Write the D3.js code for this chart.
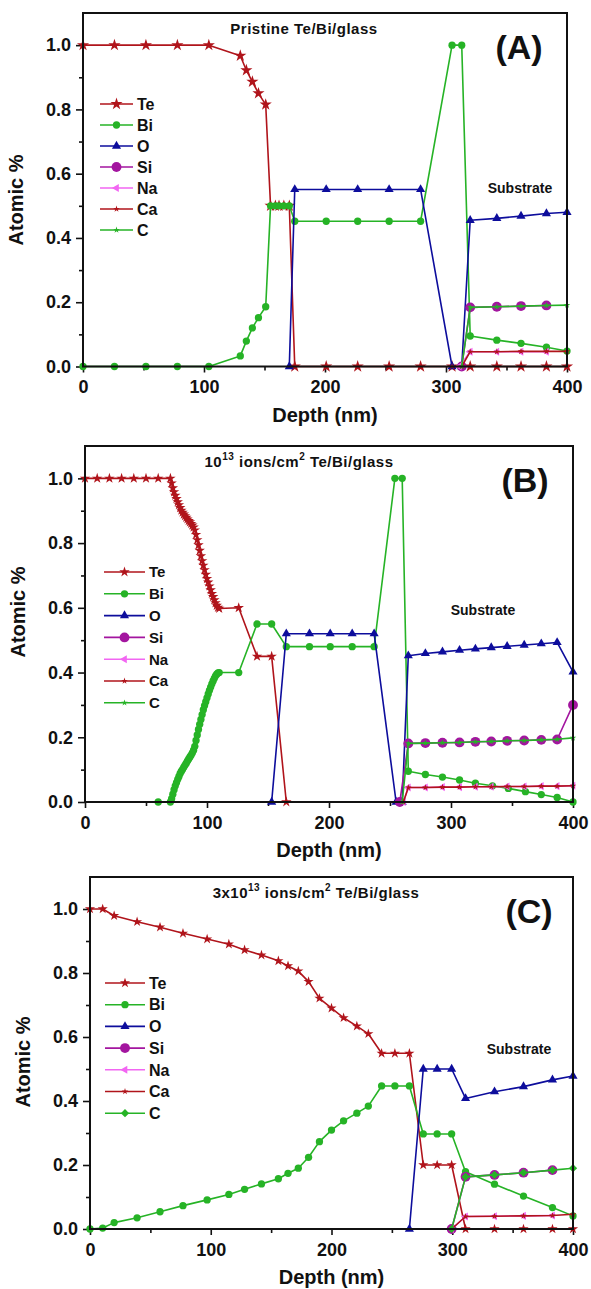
<!DOCTYPE html>
<html lang="en">
<head>
<meta charset="UTF-8">
<title>Depth profiles Te/Bi/glass</title>
<script src="https://cdn.jsdelivr.net/npm/d3@7"></script>
<style>
  body { margin: 0; background: #fff; }
  svg { display: block; font-family: "Liberation Sans", Arial, sans-serif; }
  .tick text { font-size: 18px; font-weight: bold; fill: #111; }
  .tick line { stroke: #111; stroke-width: 1.6; }
  .lbl { font-weight: bold; fill: #111; }
</style>
</head>
<body>
<svg id="chart" width="591" height="1289"></svg>
<script>
// ticks
const xTicks = [0, 100, 200, 300, 400];
const xMinor = [50, 150, 250, 350];
const yTicks = [0, 0.2, 0.4, 0.6, 0.8, 1.0];
const yMinor = [0.1, 0.3, 0.5, 0.7, 0.9];
const elements = ['Te', 'Bi', 'O', 'Si', 'Na', 'Ca', 'C'];

// (A) pristine — [depth nm, atomic fraction]
const aTe = [[0,1],[26,1],[52,1],[78,1],[104,1],[130,0.967],[135,0.922],[140,0.886],[145,0.85],[151,0.815],
  [155,0.5],[159,0.5],[162,0.5],[166,0.5],[170.5,0.5],[175,0],[201,0],[227,0],[253,0],[279,0],[305,0],
  [320,0],[342,0],[362,0],[383,0],[400,0]];
const aBi = [[0,0],[26,0],[52,0],[78,0],[104,0],[130,0.033],[135,0.079],[140,0.12],[145,0.152],[151,0.186],
  [155,0.5],[159,0.5],[162,0.5],[166,0.5],[170.5,0.5],[175,0.452],[201,0.452],[227,0.452],[253,0.452],[279,0.452],
  [305,1],[313,1],[320,0.095],[342,0.082],[362,0.072],[383,0.06],[400,0.048]];
const aO = [[170.5,0],[175,0.551],[201,0.551],[227,0.551],[253,0.551],[279,0.551],[305,0],[313,0],
  [320,0.455],[342,0.461],[362,0.468],[383,0.476],[400,0.48]];
const aSi = [[313,0],[320,0.184],[342,0.186],[362,0.188],[383,0.19]];
const aNa = [[311,0],[320,0.046],[342,0.046],[362,0.046],[383,0.046]];
const aCa = [[305,0],[313,0],[320,0.046],[342,0.046],[362,0.047],[383,0.047],[400,0.047]];
const aC = [[313,0],[320,0.184],[342,0.186],[362,0.188],[383,0.19],[400,0.191]];

// (B) 1e13 ions/cm2
const bTe = [[0,1],[10,1],[20,1],[30,1],[40,1],[50,1],[60,1],[70,1],[71,0.985],[72,0.97],[73,0.958],[74,0.947],
  [75,0.937],[76,0.927],[77,0.918],[78,0.909],[79,0.901],[80,0.895],[81,0.889],[82,0.884],[83,0.879],[84,0.874],
  [85,0.869],[86,0.865],[87,0.86],[88,0.855],[89,0.849],[90,0.84],[91,0.826],[92,0.81],[93,0.794],[94,0.777],
  [95,0.76],[96,0.745],[97,0.731],[98,0.717],[99,0.703],[100,0.69],[101,0.679],[102,0.667],[103,0.655],[104,0.644],
  [105,0.634],[106,0.624],[107,0.615],[108,0.607],[109,0.601],[110,0.598],[126,0.6],[141,0.45],[153,0.45],[165,0]];
const bBi = [[60,0],[70,0],[71,0.01],[72,0.024],[73,0.038],[74,0.05],[75,0.06],[76,0.07],[77,0.079],[78,0.088],
  [79,0.095],[80,0.101],[81,0.108],[82,0.114],[83,0.12],[84,0.127],[85,0.133],[86,0.139],[87,0.145],[88,0.152],
  [89,0.16],[90,0.172],[91,0.19],[92,0.207],[93,0.224],[94,0.24],[95,0.255],[96,0.27],[97,0.285],[98,0.298],
  [99,0.31],[100,0.322],[101,0.334],[102,0.345],[103,0.355],[104,0.365],[105,0.374],[106,0.382],[107,0.39],
  [108,0.395],[109,0.399],[110,0.4],[126,0.4],[141,0.55],[153,0.55],[165,0.48],[184,0.48],[201,0.48],[219,0.48],
  [237,0.48],[254,1],[260,1],[265,0.095],[279,0.085],[293,0.077],[307,0.068],[320,0.058],[334,0.05],[347,0.042],
  [361,0.032],[374,0.023],[387,0.014],[400,0]];
const bO = [[153,0],[165,0.52],[184,0.52],[201,0.52],[219,0.52],[237,0.52],[255,0],[260,0],[265,0.452],[279,0.459],
  [293,0.464],[307,0.469],[320,0.473],[333,0.477],[346,0.481],[360,0.485],[374,0.489],[387,0.493],[400,0.402]];
const bSi = [[258,0],[265,0.181],[279,0.182],[293,0.183],[307,0.184],[320,0.186],[333,0.187],[346,0.189],
  [360,0.19],[374,0.192],[387,0.193],[400,0.3]];
const bNa = [[261,0],[265,0.045],[279,0.045],[293,0.046],[307,0.046],[320,0.047],[333,0.047],[346,0.048],
  [360,0.048],[374,0.049],[387,0.049],[400,0.05]];
const bCa = [[261,0],[265,0.045],[279,0.045],[293,0.046],[307,0.046],[320,0.047],[333,0.047],[346,0.048],
  [360,0.048],[374,0.049],[387,0.049],[400,0.05]];
const bC = [[260,0],[265,0.181],[279,0.182],[293,0.183],[307,0.184],[320,0.186],[333,0.187],[346,0.189],
  [360,0.19],[374,0.192],[387,0.194],[400,0.198]];

// (C) 3e13 ions/cm2
const cTe = [[0,1],[10.5,1],[20,0.979],[39,0.96],[58,0.943],[77,0.924],[97,0.906],[115,0.89],[128,0.872],
  [142,0.856],[156,0.838],[164,0.822],[172.5,0.806],[181,0.773],[190,0.721],[200,0.69],[210,0.66],[221,0.634],
  [230.5,0.61],[241.5,0.549],[252.5,0.549],[264.5,0.549],[276,0.2],[287.5,0.2],[299.5,0.2],[311,0],[335,0],
  [359,0],[383,0],[400,0]];
const cBi = [[0,0],[10.5,0.003],[20,0.02],[39,0.035],[58,0.054],[77,0.073],[97,0.091],[115,0.108],[128,0.124],
  [142,0.141],[156,0.157],[164,0.174],[172.5,0.19],[181,0.224],[190,0.273],[200,0.309],[210,0.338],[221,0.362],
  [230.5,0.384],[241.5,0.447],[252.5,0.447],[264.5,0.447],[276,0.297],[287.5,0.297],[299.5,0.297],[311,0.179],
  [335,0.14],[359,0.103],[383,0.067],[400,0.041]];
const cO = [[264.5,0],[276,0.5],[287.5,0.5],[299.5,0.5],[311,0.408],[335,0.429],[359,0.445],[383,0.466],[400,0.478]];
const cSi = [[299.5,0],[311,0.163],[335,0.169],[359,0.176],[383,0.184]];
const cNa = [[299.5,0],[311,0.039],[335,0.04],[359,0.041],[383,0.042]];
const cCa = [[299.5,0],[311,0.039],[335,0.04],[359,0.041],[383,0.042],[400,0.046]];
const cC = [[299.5,0],[311,0.163],[335,0.169],[359,0.176],[383,0.184],[400,0.19]];

const colors = {Te:'#b0141b', Bi:'#26b326', O:'#0d0d9c', Si:'#a3159f', Na:'#f266f2', Ca:'#b0141b', C:'#26b326'};

const svg = d3.select('#chart');

const panels = [
  {tag:'(A)', box:[83,567,13,366.5], series:{Te:aTe,Bi:aBi,O:aO,Si:aSi,Na:aNa,Ca:aCa,C:aC},
   title:[['Pristine Te/Bi/glass',0]], titleX:304, teSize:46, cShape:'smallstar',
   legend:{x0:100,x1:133,y:104,dy:21,fs:16}, sub:[520,193], tagX:519, ylabY:200},
  {tag:'(B)', box:[85,573,446,802], series:{Te:bTe,Bi:bBi,O:bO,Si:bSi,Na:bNa,Ca:bCa,C:bC},
   title:[['10',0],['13',1],[' ions/cm',0],['2',1],[' Te/Bi/glass',0]], titleX:299, teSize:34, cShape:'smallstar',
   legend:{x0:104,x1:145,y:572,dy:21.8,fs:15}, sub:[483,615], tagX:525, ylabY:612},
  {tag:'(C)', box:[90,573,877,1229], series:{Te:cTe,Bi:cBi,O:cO,Si:cSi,Na:cNa,Ca:cCa,C:cC},
   title:[['3x10',0],['13',1],[' ions/cm',0],['2',1],[' Te/Bi/glass',0]], titleX:316, teSize:32, cShape:'diamond',
   legend:{x0:105,x1:145,y:983,dy:21.7,fs:16}, sub:[519,1054], tagX:529, ylabY:1062}
];

function symbolPath(name, p) {
  if (name === 'Te') return {d:d3.symbol(d3.symbolStar, p.teSize)(), rot:0};
  if (name === 'Bi') return {d:d3.symbol(d3.symbolCircle, 42)(), rot:0};
  if (name === 'O') return {d:d3.symbol(d3.symbolTriangle, 36)(), rot:0};
  if (name === 'Si') return {d:d3.symbol(d3.symbolCircle, 76)(), rot:0};
  if (name === 'Na') return {d:d3.symbol(d3.symbolTriangle, 28)(), rot:-90};
  if (name === 'Ca') return {d:d3.symbol(d3.symbolStar, 13)(), rot:0};
  if (p.cShape === 'diamond') return {d:d3.symbol(d3.symbolSquare, 34)(), rot:45};
  return {d:d3.symbol(d3.symbolStar, 13)(), rot:0};
}

panels.forEach(p => {
  const [left, right, top, bottom] = p.box;
  const x = d3.scaleLinear().domain([0, 400]).range([left, right]);
  const y = d3.scaleLinear().domain([0, 1.1]).range([bottom, top]);
  const g = svg.append('g');

  // minor ticks
  g.append('g').attr('transform', `translate(0,${bottom})`)
    .call(d3.axisBottom(x).tickValues(xMinor).tickSize(4).tickSizeOuter(0).tickFormat(''))
    .call(a => a.select('.domain').remove());
  g.append('g').attr('transform', `translate(${left},0)`)
    .call(d3.axisLeft(y).tickValues(yMinor).tickSize(4).tickSizeOuter(0).tickFormat(''))
    .call(a => a.select('.domain').remove());
  // major ticks
  g.append('g').attr('transform', `translate(0,${bottom})`)
    .call(d3.axisBottom(x).tickValues(xTicks).tickSize(6).tickPadding(8).tickSizeOuter(0).tickFormat(d3.format('d')))
    .call(a => a.select('.domain').remove());
  g.append('g').attr('transform', `translate(${left},0)`)
    .call(d3.axisLeft(y).tickValues(yTicks).tickSize(7).tickPadding(5).tickSizeOuter(0).tickFormat(d3.format('.1f')))
    .call(a => a.select('.domain').remove());

  // series
  const line = d3.line().x(d => x(d[0])).y(d => y(d[1]));
  elements.forEach(name => {
    const data = p.series[name];
    const s = symbolPath(name, p);
    g.append('path').attr('d', line(data)).attr('fill', 'none')
      .attr('stroke', colors[name]).attr('stroke-width', 1.6).attr('stroke-linejoin', 'round');
    g.selectAll(null).data(data).join('path')
      .attr('d', s.d)
      .attr('transform', d => `translate(${x(d[0])},${y(d[1])}) rotate(${s.rot})`)
      .attr('fill', colors[name]);
  });

  // frame
  g.append('rect').attr('x', left).attr('y', top).attr('width', right - left).attr('height', bottom - top)
    .attr('fill', 'none').attr('stroke', '#111').attr('stroke-width', 2);

  // legend
  const L = p.legend;
  elements.forEach((name, i) => {
    const ly = L.y + i * L.dy;
    const s = symbolPath(name, p);
    g.append('line').attr('x1', L.x0).attr('x2', L.x1).attr('y1', ly).attr('y2', ly)
      .attr('stroke', colors[name]).attr('stroke-width', 1.6);
    g.append('path').attr('d', s.d)
      .attr('transform', `translate(${(L.x0 + L.x1) / 2},${ly}) rotate(${s.rot})`)
      .attr('fill', colors[name]);
    g.append('text').attr('class', 'lbl').attr('x', L.x1 + 4).attr('y', ly).attr('dy', '0.36em')
      .attr('font-size', L.fs).text(name);
  });

  // title
  const t = g.append('text').attr('class', 'lbl').attr('x', p.titleX).attr('y', top + 21)
    .attr('text-anchor', 'middle').attr('font-size', 15).attr('letter-spacing', 0.5);
  let up = false;
  p.title.forEach(([str, sup]) => {
    const ts = t.append('tspan').text(str);
    if (sup && !up) { ts.attr('font-size', 10).attr('dy', -7); up = true; }
    else if (!sup && up) { ts.attr('dy', 7); up = false; }
  });

  g.append('text').attr('class', 'lbl').attr('x', p.tagX).attr('y', top + 46)
    .attr('text-anchor', 'middle').attr('font-size', 34).text(p.tag);
  g.append('text').attr('class', 'lbl').attr('x', p.sub[0]).attr('y', p.sub[1])
    .attr('text-anchor', 'middle').attr('font-size', 14).text('Substrate');

  // axis titles
  g.append('text').attr('class', 'lbl').attr('x', (left + right) / 2).attr('y', bottom + 55)
    .attr('text-anchor', 'middle').attr('font-size', 20).text('Depth (nm)');
  g.append('text').attr('class', 'lbl')
    .attr('transform', `translate(${left - 60},${p.ylabY}) rotate(-90)`)
    .attr('text-anchor', 'middle').attr('font-size', 20).text('Atomic %');
});
</script>
</body>
</html>
